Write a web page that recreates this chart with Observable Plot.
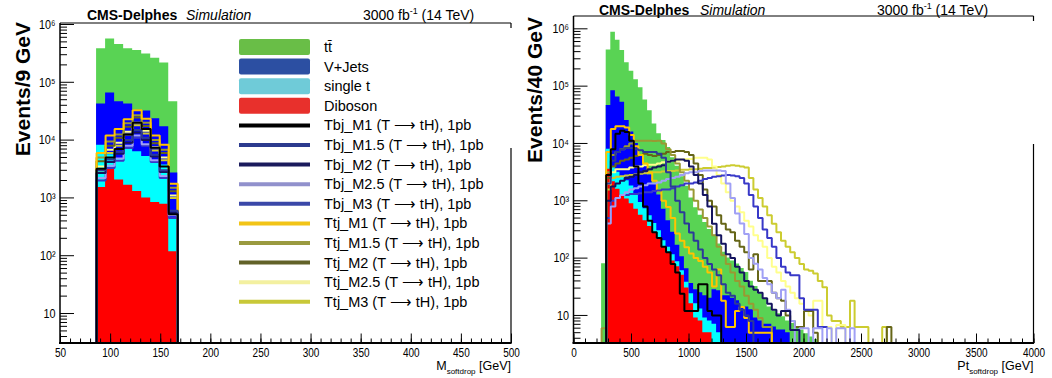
<!DOCTYPE html>
<html><head><meta charset="utf-8">
<script src="https://cdn.jsdelivr.net/npm/d3@7"></script>
<script src="https://cdn.jsdelivr.net/npm/@observablehq/plot@0.6"></script>
<style>
html,body{margin:0;padding:0;background:#fff;}
#wrap{position:relative;width:1052px;height:378px;overflow:hidden;}
#wrap svg{position:absolute;top:0;overflow:visible;}
</style></head><body><div id="wrap"></div>
<script>
// ================= DATA =================
// Left panel: M_softdrop, 9 GeV bins starting at 86 GeV
const massBinStart = 86, massBinWidth = 9;
const massDiboson   = [1510, 3240, 2040, 1660, 1290, 1000, 830, 780, 117];
const massSingleTop = [6620, 2360, 2640, 5750, 5010, 4200, 3470, 2920, 343];
const massVJets     = [33900, 59400, 41300, 34600, 26700, 26800, 19200, 13300, 2240];
const massTTbar     = [338000, 495000, 404000, 338000, 322000, 278000, 236500, 198000, 43300];
const massTbjM1  = [3200, 5000, 7000, 12500, 20000, 15500, 7400, 3500, 520];
const massTbjM15 = [3000, 4600, 6300, 10000, 15000, 11000, 5600, 3000, 600];
const massTbjM2  = [2700, 4200, 5800, 9000, 13500, 10000, 5200, 2800, 560];
const massTbjM25 = [2200, 3600, 4800, 8000, 12000, 8500, 4500, 2400, 500];
const massTbjM3  = [2000, 3300, 4400, 7300, 11000, 8000, 4200, 2200, 450];
const massTtjM1  = [6000, 12000, 15500, 23000, 33000, 23500, 12000, 8300, 1750];
const massTtjM15 = [5000, 9500, 12500, 19500, 27000, 20000, 10000, 6800, 1500];
const massTtjM2  = [4300, 8000, 11000, 17000, 24500, 17500, 8800, 6000, 1300];
const massTtjM25 = [3500, 6800, 9000, 14000, 20000, 14500, 7500, 5000, 1100];
const massTtjM3  = [3000, 6000, 8000, 12500, 18000, 13000, 6600, 4500, 1000];

// Right panel: Pt_softdrop, 40 GeV bins starting at 240 GeV
const ptBinStart = 240, ptBinWidth = 40;
const ptDiboson   = [0, 3550, 2140, 1585, 1260, 1070, 890, 710, 560, 450, 355, 280, 215, 160, 120, 89, 71, 50, 30, 16, 9, 8, 5, 5];
const ptSingleTop = [0, 4390, 1840, 1575, 1310, 1170, 930, 610, 370, 275, 195, 120, 85, 40, 35, 25, 15, 10, 8, 8, 7, 5, 4, 3, 7, 5];
const ptVJets     = [0, 37800, 79200, 61400, 49900, 22900, 14000, 8680, 5370, 3260, 2270, 1600, 960, 510, 295, 168, 81, 46, 27, 12, 12, 12, 13, 12, 21, 22, 22, 22, 20, 18, 14, 14, 12.6, 9, 8, 7, 7, 6.3, 5.6, 5.6, 5];
const ptTTbar     = [80, 381000, 788000, 567000, 364000, 232000, 166000, 119000, 87000, 53500, 34400, 19900, 13500, 10500, 8050, 5340, 3820, 2530, 1720, 1080, 728, 535, 395, 296, 223, 150, 104, 78, 69, 61, 52, 42, 27, 23, 16, 12, 7, 5.7, 5.1, 3.9, 3, 7.2, 6.3, 5.6, 4.8, 4.2, 3.8];
const ptTbjM1  = [0, 2820, 7940, 14800, 16600, 15800, 11200, 3980, 2000, 794, 447, 282, 224, 158, 126, 79, 56, 24, 12, 12, 12, 35, 35, 12, 10, 10];
const ptTbjM15 = [0, 2000, 5010, 7080, 7940, 8300, 8300, 7940, 7590, 7080, 7080, 7080, 6600, 5620, 3160, 1780, 1000, 630, 400, 280, 200, 141, 100, 79, 63, 50, 35, 25, 22, 16, 12.6, 10, 8];
const ptTbjM2  = [0, 1000, 1780, 2000, 2240, 2510, 2630, 2820, 3160, 3310, 3550, 3800, 3980, 4170, 4790, 5010, 5250, 5250, 5010, 3980, 2820, 2000, 1260, 794, 398, 251, 178, 117, 100, 71, 56, 40, 32, 28, 25, 20, 16, 12.6, 10, 12, 12, 5.6, 5.6];
const ptTbjM25 = [0, 400, 794, 1120, 1260, 1410, 1580, 1660, 1780, 1860, 2000, 2000, 2090, 2240, 2400, 2510, 2630, 2820, 3020, 3160, 3160, 3310, 3390, 3390, 3390, 3390, 3310, 2000, 1120, 600, 400, 263, 100, 80, 63, 45, 35, 25, 20, 28, 12.6, 8, 0, 6, 6, 0, 6, 6, 0, 6, 0, 6, 6, 0, 6];
const ptTbjM3  = [0, 501, 1000, 1120, 1260, 1260, 1320, 1320, 1350, 1410, 1410, 1480, 1510, 1580, 1580, 1660, 1780, 1860, 2000, 2000, 2090, 2240, 2400, 2510, 2630, 2690, 2750, 2820, 2750, 2690, 2510, 2000, 1260, 794, 501, 316, 224, 158, 100, 71, 56, 50, 50, 20, 12.6, 12.6, 12.6, 6.3, 6.3];
const ptTtjM1  = [0, 7080, 17800, 19950, 19950, 19050, 14100, 8900, 6300, 4470, 3160, 2240, 1500, 1000, 780, 500, 270, 200, 155, 120, 100, 89, 71, 56, 32, 63, 18, 6.3, 6.3, 12, 14, 9, 5, 5, 5, 5, 5];
const ptTtjM15 = [6, 3160, 6310, 7080, 7940, 8910, 10000, 11200, 11200, 11200, 11200, 11000, 11200, 10000, 7940, 6310, 4470, 3160, 2240, 1580, 1000, 708, 501, 355, 251, 158, 112, 79, 56, 40, 32, 22, 16, 12.6, 9, 6.3, 6.3];
const ptTtjM2  = [0, 2510, 3980, 4470, 5010, 5250, 5620, 6030, 6310, 6610, 6310, 6030, 6310, 6610, 7080, 7080, 7410, 7410, 7080, 6310, 4470, 2820, 1580, 1000, 794, 562, 398, 316, 282, 200, 158, 126, 63, 117, 40, 40, 40, 25, 20, 18, 10, 8, 6.3, 6.3, 12, 12, 5, 0, 0, 0, 0, 0, 0, 0, 0, 0, 0, 0, 0, 0, 0, 0, 6.3];
const ptTtjM25 = [0, 2000, 3160, 3550, 3550, 3550, 3800, 3980, 3980, 4170, 4270, 4270, 4470, 4680, 4790, 5010, 5010, 5250, 5370, 5370, 5620, 5620, 5620, 5250, 3980, 2820, 2000, 1410, 1000, 794, 631, 447, 355, 251, 200, 158, 100, 71, 56, 40, 32, 25, 20, 16, 12.6, 10, 18, 18, 6.3, 6.3, 0, 6.8, 6.8];
const ptTtjM3  = [0, 1580, 2510, 2630, 2690, 2750, 2820, 2880, 2950, 3020, 3090, 3160, 3160, 3240, 3310, 3310, 3390, 3470, 3470, 3550, 3550, 3630, 3720, 3720, 3800, 3890, 3980, 4070, 4170, 4070, 3980, 3800, 2510, 1580, 1120, 794, 562, 398, 282, 200, 158, 126, 100, 79, 63, 60, 54, 40, 31, 10, 8, 8, 6.3, 6.3, 18, 6.3, 6.3, 6.3, 0, 0, 0, 6.3];

// Names, colours and tick labels
const backgroundNames = ["Diboson", "single t", "V+Jets", "tt\u0304"]; // bottom -> top
const backgroundFill = ["#ff0000", "#00ffff", "#0000ff", "#59d354"];
const backgroundLegendFill = ["#e8302c", "#6fcbd8", "#2c4fa2", "#69be47"];
const signalNames = ["Tbj_M1", "Tbj_M1.5", "Tbj_M2", "Tbj_M2.5", "Tbj_M3", "Ttj_M1", "Ttj_M1.5", "Ttj_M2", "Ttj_M2.5", "Ttj_M3"];
const signalColors = ["#000000", "#2b3a99", "#14145f", "#a0a0f5", "#3838c8", "#ffc400", "#999933", "#666618", "#ffff8c", "#cccc30"];
const signalLegendColors = ["#000000", "#2c3a8e", "#1b1b5c", "#9191cc", "#3a48a8", "#f2c417", "#9a9a40", "#626228", "#f3f0a0", "#c8c838"];
const signalSuffix = " (T \u27f6 tH), 1pb";
const massTicks = [50, 100, 150, 200, 250, 300, 350, 400, 450, 500];
const massTickLabels = ["50", "100", "150", "200", "250", "300", "350", "400", "450", "500"];
const ptTicks = [0, 500, 1000, 1500, 2000, 2500, 3000, 3500, 4000];
const ptTickLabels = ["0", "500", "1000", "1500", "2000", "2500", "3000", "3500", "4000"];
const yTicks = [10, 100, 1000, 10000, 100000, 1000000];
const yTickLabels = ["10", "10\u00b2", "10\u00b3", "10\u2074", "10\u2075", "10\u2076"];

// ================= HELPERS =================
const FLOOR = 0.05;
const FONT = "'Liberation Sans', Arial, Helvetica, sans-serif";
function stepPoints(values, start, width) {
  const f = v => (v > 0 ? v : FLOOR);
  const pts = [{x: start, y: FLOOR}];
  values.forEach((v, i) => pts.push({x: start + i * width, y: f(v)}));
  const end = start + values.length * width;
  pts.push({x: end, y: f(values[values.length - 1])});
  pts.push({x: end, y: FLOOR});
  return pts;
}
function cumulate(arrays) {
  const n = d3.max(arrays, a => a.length);
  let acc = new Array(n).fill(0);
  return arrays.map(a => { acc = acc.map((s, i) => s + (a[i] || 0)); return acc.slice(); });
}
function minorLog(lo, hi) {
  const out = [];
  for (let k = 0; k <= 6; k++) for (let m = 2; m <= 9; m++) { const v = m * 10 ** k; if (v >= lo && v <= hi) out.push(v); }
  return out;
}

function panel({bg, sig, start, width, xDomain, yDomain, xTicks, xLabels, xMinorStep, left, W, mL, mR, mT}) {
  const cum = cumulate(bg);
  const marks = [];
  for (let j = cum.length - 1; j >= 0; j--) {
    marks.push(Plot.area(stepPoints(cum[j], start, width), {
      x1: "x", y1: () => FLOOR, y2: "y", curve: "step-after", fill: backgroundFill[j], clip: true
    }));
  }
  for (let j = sig.length - 1; j >= 0; j--) {
    marks.push(Plot.line(stepPoints(sig[j], start, width), {
      x: "x", y: "y", curve: "step-after", stroke: signalColors[j], strokeWidth: 2,
      strokeLinejoin: "miter", clip: true
    }));
  }
  const xLab = new Map(xTicks.map((t, i) => [t, xLabels[i]]));
  const yLab = new Map(yTicks.map((t, i) => [t, yTickLabels[i]]));
  marks.push(
    Plot.axisX(d3.range(xDomain[0], xDomain[1] + 1e-9, xMinorStep), {tickSize: -4.5, tickFormat: () => "", label: null}),
    Plot.axisX(xTicks, {tickSize: -9.5, tickPadding: 14, tickFormat: d => xLab.get(d), label: null, fontSize: 12.5}),
    Plot.axisY(minorLog(yDomain[0], yDomain[1]), {tickSize: -7, tickFormat: () => "", label: null}),
    Plot.axisY(yTicks, {tickSize: -14, tickPadding: 19, tickFormat: d => yLab.get(d), label: null, fontSize: 13.5})
  );
  const svg = Plot.plot({
    width: W, height: 378, marginLeft: mL, marginRight: mR, marginTop: mT, marginBottom: 35,
    x: {domain: xDomain}, y: {type: "log", domain: yDomain},
    style: {fontFamily: FONT, fontSize: "12px", background: "transparent", color: "#000"},
    marks
  });
  svg.style.left = left + "px";
  document.getElementById("wrap").appendChild(svg);
  return svg;
}

function decorate(svg, o) {
  const g = d3.select(svg).append("g").attr("font-family", FONT).attr("fill", "#000").attr("text-anchor", "start");
  const x0 = o.mL, x1 = o.W - o.mR, yT = o.mT, yB = 343;
  // frame
  g.append("line").attr("x1", x0).attr("x2", x1).attr("y1", yT).attr("y2", yT).attr("stroke", "#000").attr("stroke-width", 1);
  g.append("line").attr("x1", x1).attr("x2", x1).attr("y1", yT).attr("y2", yT + 5).attr("stroke", "#000").attr("stroke-width", 1.2);
  g.append("line").attr("x1", x1).attr("x2", x1).attr("y1", o.rightFrom).attr("y2", yB).attr("stroke", "#000").attr("stroke-width", 1.2);
  g.append("line").attr("x1", x0).attr("x2", x0).attr("y1", yT).attr("y2", yB).attr("stroke", "#000").attr("stroke-width", 1.5);
  g.append("line").attr("x1", x0 - 1).attr("x2", x1 + 0.6).attr("y1", yB).attr("y2", yB).attr("stroke", "#000").attr("stroke-width", 2.2);
  // header
  g.append("text").attr("x", o.cmsX).attr("y", o.headY).attr("font-size", 14).attr("font-weight", "bold").text("CMS-Delphes");
  g.append("text").attr("x", o.simX).attr("y", o.headY).attr("font-size", 14).attr("font-style", "italic").text("Simulation");
  const lumi = g.append("text").attr("x", o.lumiX).attr("y", o.headY).attr("font-size", 14);
  lumi.append("tspan").text("3000 fb");
  lumi.append("tspan").attr("font-size", 9).attr("dy", -6).text("-1");
  lumi.append("tspan").attr("dy", 6).text(" (14 TeV)");
  // y title
  g.append("text").attr("transform", `translate(${o.yTitleX},${o.yTitleTop}) rotate(-90)`)
    .attr("text-anchor", "end").attr("font-size", 21).attr("font-weight", "bold").text(o.yTitle);
  // x title
  const xt = g.append("text").attr("x", x1).attr("y", 370).attr("text-anchor", "end").attr("font-size", 12.5);
  xt.append("tspan").text(o.xVar);
  xt.append("tspan").attr("font-size", 8).attr("dy", 4).text("softdrop");
  xt.append("tspan").attr("dy", -4).text(" [GeV]");
  // condensed tick labels
  svg.querySelectorAll('g[aria-label$="tick label"] text').forEach(t => {
    const L = t.getComputedTextLength();
    if (L > 0) { t.setAttribute("textLength", (L * 0.8).toFixed(2)); t.setAttribute("lengthAdjust", "spacingAndGlyphs"); }
  });
  return g;
}

// ================= LEFT PANEL =================
const L = {W: 526, mL: 60, mR: 15, mT: 23};
const leftSvg = panel({
  bg: [massDiboson, massSingleTop, massVJets, massTTbar],
  sig: [massTbjM1, massTbjM15, massTbjM2, massTbjM25, massTbjM3, massTtjM1, massTtjM15, massTtjM2, massTtjM25, massTtjM3],
  start: massBinStart, width: massBinWidth, xDomain: [50, 500], yDomain: [3.03, 1.04e6],
  xTicks: massTicks, xLabels: massTickLabels, xMinorStep: 10, left: 0, ...L
});
const lg = decorate(leftSvg, {...L, rightFrom: 148, headY: 20, cmsX: 87, simX: 186, lumiX: 363,
  yTitleX: 30, yTitleTop: 22, yTitle: "Events/9 GeV", xVar: "M"});

// legend
const legendItems = [
  ...[3, 2, 1, 0].map(j => ({label: backgroundNames[j], fill: backgroundLegendFill[j]})),
  ...signalNames.map((n, j) => ({label: n + signalSuffix, stroke: signalLegendColors[j]}))
];
legendItems.forEach((it, i) => {
  const cy = 47 + i * 19.6;
  if (it.fill) {
    lg.append("rect").attr("x", 239).attr("y", cy - 8).attr("width", 71).attr("height", 16).attr("rx", 2).attr("fill", it.fill);
  } else {
    lg.append("line").attr("x1", 239).attr("x2", 310).attr("y1", cy).attr("y2", cy).attr("stroke", it.stroke).attr("stroke-width", 4);
  }
  lg.append("text").attr("x", 324).attr("y", cy + 5).attr("text-anchor", "start").attr("font-size", 14.5).text(it.label);
});

// ================= RIGHT PANEL =================
const R = {W: 526, mL: 47.5, mR: 18.5, mT: 16};
const rightSvg = panel({
  bg: [ptDiboson, ptSingleTop, ptVJets, ptTTbar],
  sig: [ptTbjM1, ptTbjM15, ptTbjM2, ptTbjM25, ptTbjM3, ptTtjM1, ptTtjM15, ptTtjM2, ptTtjM25, ptTtjM3],
  start: ptBinStart, width: ptBinWidth, xDomain: [0, 4000], yDomain: [3.24, 1.64e6],
  xTicks: ptTicks, xLabels: ptTickLabels, xMinorStep: 100, left: 526, ...R
});
decorate(rightSvg, {...R, rightFrom: 144, headY: 15, cmsX: 73, simX: 174, lumiX: 351,
  yTitleX: 16, yTitleTop: 17, yTitle: "Events/40 GeV", xVar: "Pt"});
</script></body></html>
